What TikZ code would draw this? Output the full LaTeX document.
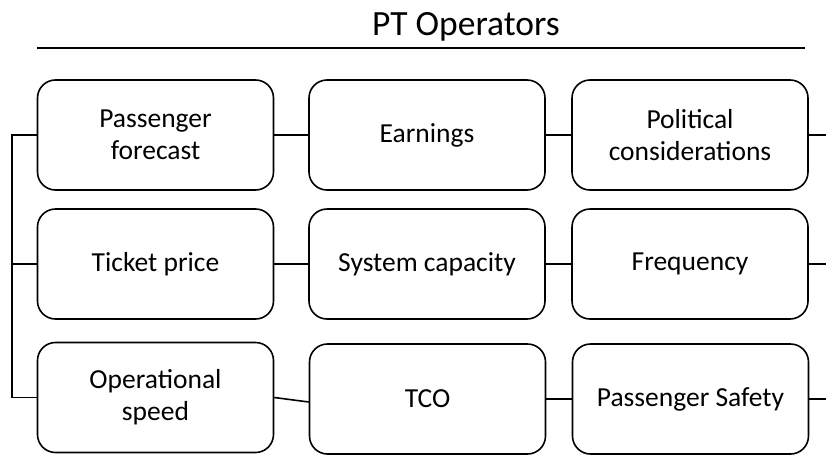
\documentclass[tikz,border=0pt]{standalone}
\usepackage{fontspec}
\setmainfont{Carlito}
\begin{document}
\begin{tikzpicture}[x=1pt,y=-1pt,
  opbox/.style={draw,line width=1.6pt,rounded corners=18pt,minimum width=236pt,minimum height=110pt,
    align=center,font=\fontsize{27.5}{32}\selectfont},
  link/.style={line width=1.6pt}]
\useasboundingbox (0,0) rectangle (826,455);
\node[anchor=base,font=\fontsize{35.5}{40}\selectfont] (title) at (466,35) {PT Operators};
\coordinate (rule l) at (37,48);
\coordinate (rule r) at (805,48);
\draw[link] (rule l) -- (rule r);
% the nine factor boxes
\foreach \nm/\x/\y/\txt in {pf/155.5/135/{Passenger\\forecast}, earn/427/135/{Earnings}, pol/690/135/{Political\\considerations},
  tp/155.5/264/{Ticket price}, cap/427/264/{System capacity}, freq/690/264/{Frequency},
  op/155.5/397.5/{Operational\\speed}, tco/427.5/399/{TCO}, safe/690.5/399/{Passenger Safety}}{
  \node[opbox] (\nm) at (\x,\y) {\txt};
}
% spine on the left
\coordinate (spine t) at (12,135);
\coordinate (spine b) at (12,397.5);
\coordinate (edge) at (826,0);
\draw[link] (pf.west) -- (spine t) -- (spine b) -- (op.west);
\draw[link] (tp.west) -- (tp.west -| spine t);
% links between the columns
\draw[link] (pf) -- (earn);
\draw[link] (earn) -- (pol);
\draw[link] (tp) -- (cap);
\draw[link] (cap) -- (freq);
\draw[link] (op.east) -- ([yshift=-3pt]tco.west);
\draw[link] (tco) -- (safe);
% stubs running off to the right
\foreach \nm in {pol,freq,safe}
  \draw[link] (\nm.east) -- (\nm.east -| edge);
\end{tikzpicture}
\end{document}
